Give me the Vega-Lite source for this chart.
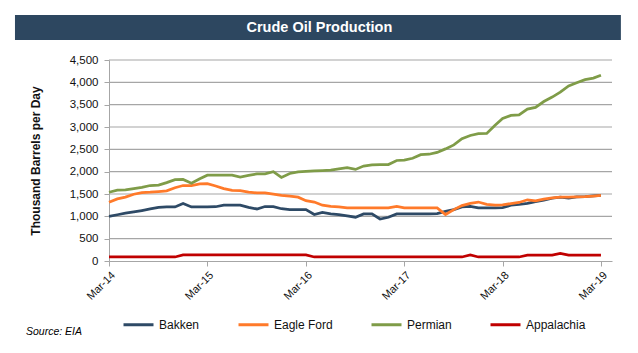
{
  "$schema": "https://vega.github.io/schema/vega-lite/v6.json",
  "background": "white",
  "padding": {"left": 14, "top": 15, "right": 18, "bottom": 5},
  "width": 503,
  "height": 201,
  "config": {"view": {"stroke": null}, "font": "Liberation Sans"},
  "title": {"text": "Source: EIA", "orient": "bottom", "anchor": "start", "frame": "group", "dx": -83, "offset": -4, "fontSize": 10.5, "fontStyle": "italic", "fontWeight": "normal", "font": "Liberation Sans", "color": "black"},
  "layer": [
    {
      "data": {"values": [{"v": 500}, {"v": 1000}, {"v": 1500}, {"v": 2000}, {"v": 2500}, {"v": 3000}, {"v": 3500}, {"v": 4000}, {"v": 4500}]},
      "mark": {"type": "rule", "stroke": "#A6A6A6", "strokeWidth": 1.2, "opacity": 1},
      "encoding": {
        "x": {
          "datum": {"year": 2014, "month": 3, "date": 1, "utc": true}, "type": "temporal",
          "axis": {
            "title": null, "grid": false, "format": "%b-%y", "labelAngle": -45,
            "values": [
              {"year": 2014, "month": 3, "date": 1, "utc": true},
              {"year": 2015, "month": 3, "date": 1, "utc": true},
              {"year": 2016, "month": 3, "date": 1, "utc": true},
              {"year": 2017, "month": 3, "date": 1, "utc": true},
              {"year": 2018, "month": 3, "date": 1, "utc": true},
              {"year": 2019, "month": 3, "date": 1, "utc": true}
            ],
            "labelFont": "Liberation Sans", "labelFontSize": 11, "labelColor": "#111",
            "domainColor": "#A6A6A6", "tickColor": "#A6A6A6", "tickSize": 5, "labelPadding": 3
          }
        },
        "x2": {"datum": {"year": 2019, "month": 4, "date": 11, "utc": true}},
        "y": {
          "field": "v", "type": "quantitative",
          "scale": {"domain": [0, 4500], "nice": false},
          "axis": {
            "title": "Thousand Barrels per Day", "titleFont": "Liberation Sans", "titleFontSize": 12, "titleFontWeight": "bold", "titleColor": "#111", "titlePadding": 27,
            "values": [0, 500, 1000, 1500, 2000, 2500, 3000, 3500, 4000, 4500], "format": ",d", "grid": false,
            "labelFont": "Liberation Sans", "labelFontSize": 11.5, "labelColor": "#111", "labelPadding": 6,
            "domainColor": "#A6A6A6", "tickColor": "#A6A6A6", "tickSize": 5
          }
        }
      }
    },
    {
      "data": {"values": [
        {"d": "2014-03-01", "Bakken": 1000, "Eagle Ford": 1315, "Permian": 1540, "Appalachia": 90},
        {"d": "2014-04-01", "Bakken": 1035, "Eagle Ford": 1390, "Permian": 1585, "Appalachia": 90},
        {"d": "2014-05-01", "Bakken": 1070, "Eagle Ford": 1430, "Permian": 1590, "Appalachia": 90},
        {"d": "2014-06-01", "Bakken": 1100, "Eagle Ford": 1495, "Permian": 1620, "Appalachia": 90},
        {"d": "2014-07-01", "Bakken": 1130, "Eagle Ford": 1530, "Permian": 1650, "Appalachia": 90},
        {"d": "2014-08-01", "Bakken": 1165, "Eagle Ford": 1540, "Permian": 1690, "Appalachia": 90},
        {"d": "2014-09-01", "Bakken": 1200, "Eagle Ford": 1555, "Permian": 1700, "Appalachia": 90},
        {"d": "2014-10-01", "Bakken": 1210, "Eagle Ford": 1570, "Permian": 1755, "Appalachia": 90},
        {"d": "2014-11-01", "Bakken": 1210, "Eagle Ford": 1640, "Permian": 1820, "Appalachia": 90},
        {"d": "2014-12-01", "Bakken": 1290, "Eagle Ford": 1690, "Permian": 1825, "Appalachia": 135},
        {"d": "2015-01-01", "Bakken": 1210, "Eagle Ford": 1690, "Permian": 1740, "Appalachia": 135},
        {"d": "2015-02-01", "Bakken": 1210, "Eagle Ford": 1725, "Permian": 1840, "Appalachia": 135},
        {"d": "2015-03-01", "Bakken": 1210, "Eagle Ford": 1730, "Permian": 1920, "Appalachia": 135},
        {"d": "2015-04-01", "Bakken": 1215, "Eagle Ford": 1680, "Permian": 1920, "Appalachia": 135},
        {"d": "2015-05-01", "Bakken": 1250, "Eagle Ford": 1620, "Permian": 1920, "Appalachia": 135},
        {"d": "2015-06-01", "Bakken": 1250, "Eagle Ford": 1580, "Permian": 1920, "Appalachia": 135},
        {"d": "2015-07-01", "Bakken": 1250, "Eagle Ford": 1575, "Permian": 1880, "Appalachia": 135},
        {"d": "2015-08-01", "Bakken": 1200, "Eagle Ford": 1540, "Permian": 1915, "Appalachia": 135},
        {"d": "2015-09-01", "Bakken": 1165, "Eagle Ford": 1525, "Permian": 1950, "Appalachia": 135},
        {"d": "2015-10-01", "Bakken": 1220, "Eagle Ford": 1525, "Permian": 1950, "Appalachia": 135},
        {"d": "2015-11-01", "Bakken": 1215, "Eagle Ford": 1495, "Permian": 2000, "Appalachia": 135},
        {"d": "2015-12-01", "Bakken": 1170, "Eagle Ford": 1470, "Permian": 1870, "Appalachia": 135},
        {"d": "2016-01-01", "Bakken": 1150, "Eagle Ford": 1450, "Permian": 1960, "Appalachia": 135},
        {"d": "2016-02-01", "Bakken": 1150, "Eagle Ford": 1430, "Permian": 1995, "Appalachia": 135},
        {"d": "2016-03-01", "Bakken": 1150, "Eagle Ford": 1350, "Permian": 2005, "Appalachia": 135},
        {"d": "2016-04-01", "Bakken": 1040, "Eagle Ford": 1320, "Permian": 2015, "Appalachia": 90},
        {"d": "2016-05-01", "Bakken": 1090, "Eagle Ford": 1250, "Permian": 2025, "Appalachia": 90},
        {"d": "2016-06-01", "Bakken": 1055, "Eagle Ford": 1225, "Permian": 2035, "Appalachia": 90},
        {"d": "2016-07-01", "Bakken": 1040, "Eagle Ford": 1210, "Permian": 2060, "Appalachia": 90},
        {"d": "2016-08-01", "Bakken": 1010, "Eagle Ford": 1190, "Permian": 2090, "Appalachia": 90},
        {"d": "2016-09-01", "Bakken": 980, "Eagle Ford": 1190, "Permian": 2050, "Appalachia": 90},
        {"d": "2016-10-01", "Bakken": 1055, "Eagle Ford": 1190, "Permian": 2125, "Appalachia": 90},
        {"d": "2016-11-01", "Bakken": 1055, "Eagle Ford": 1190, "Permian": 2150, "Appalachia": 90},
        {"d": "2016-12-01", "Bakken": 940, "Eagle Ford": 1190, "Permian": 2160, "Appalachia": 90},
        {"d": "2017-01-01", "Bakken": 980, "Eagle Ford": 1190, "Permian": 2160, "Appalachia": 90},
        {"d": "2017-02-01", "Bakken": 1055, "Eagle Ford": 1225, "Permian": 2250, "Appalachia": 90},
        {"d": "2017-03-01", "Bakken": 1055, "Eagle Ford": 1190, "Permian": 2260, "Appalachia": 90},
        {"d": "2017-04-01", "Bakken": 1055, "Eagle Ford": 1190, "Permian": 2300, "Appalachia": 90},
        {"d": "2017-05-01", "Bakken": 1055, "Eagle Ford": 1190, "Permian": 2380, "Appalachia": 90},
        {"d": "2017-06-01", "Bakken": 1055, "Eagle Ford": 1190, "Permian": 2390, "Appalachia": 90},
        {"d": "2017-07-01", "Bakken": 1060, "Eagle Ford": 1190, "Permian": 2430, "Appalachia": 90},
        {"d": "2017-08-01", "Bakken": 1110, "Eagle Ford": 1040, "Permian": 2510, "Appalachia": 90},
        {"d": "2017-09-01", "Bakken": 1150, "Eagle Ford": 1150, "Permian": 2600, "Appalachia": 90},
        {"d": "2017-10-01", "Bakken": 1210, "Eagle Ford": 1240, "Permian": 2740, "Appalachia": 90},
        {"d": "2017-11-01", "Bakken": 1225, "Eagle Ford": 1290, "Permian": 2810, "Appalachia": 135},
        {"d": "2017-12-01", "Bakken": 1190, "Eagle Ford": 1320, "Permian": 2850, "Appalachia": 90},
        {"d": "2018-01-01", "Bakken": 1190, "Eagle Ford": 1270, "Permian": 2855, "Appalachia": 90},
        {"d": "2018-02-01", "Bakken": 1190, "Eagle Ford": 1250, "Permian": 3040, "Appalachia": 90},
        {"d": "2018-03-01", "Bakken": 1195, "Eagle Ford": 1255, "Permian": 3190, "Appalachia": 90},
        {"d": "2018-04-01", "Bakken": 1250, "Eagle Ford": 1285, "Permian": 3260, "Appalachia": 90},
        {"d": "2018-05-01", "Bakken": 1265, "Eagle Ford": 1310, "Permian": 3270, "Appalachia": 90},
        {"d": "2018-06-01", "Bakken": 1290, "Eagle Ford": 1370, "Permian": 3400, "Appalachia": 130},
        {"d": "2018-07-01", "Bakken": 1330, "Eagle Ford": 1345, "Permian": 3440, "Appalachia": 130},
        {"d": "2018-08-01", "Bakken": 1360, "Eagle Ford": 1385, "Permian": 3570, "Appalachia": 130},
        {"d": "2018-09-01", "Bakken": 1405, "Eagle Ford": 1415, "Permian": 3670, "Appalachia": 130},
        {"d": "2018-10-01", "Bakken": 1430, "Eagle Ford": 1430, "Permian": 3780, "Appalachia": 170},
        {"d": "2018-11-01", "Bakken": 1410, "Eagle Ford": 1430, "Permian": 3920, "Appalachia": 130},
        {"d": "2018-12-01", "Bakken": 1435, "Eagle Ford": 1435, "Permian": 3990, "Appalachia": 130},
        {"d": "2019-01-01", "Bakken": 1440, "Eagle Ford": 1440, "Permian": 4060, "Appalachia": 130},
        {"d": "2019-02-01", "Bakken": 1460, "Eagle Ford": 1455, "Permian": 4095, "Appalachia": 130},
        {"d": "2019-03-01", "Bakken": 1470, "Eagle Ford": 1470, "Permian": 4160, "Appalachia": 130}
      ]},
      "transform": [{"fold": ["Bakken", "Eagle Ford", "Permian", "Appalachia"], "as": ["series", "value"]}],
      "mark": {"type": "line", "strokeWidth": 2.75},
      "encoding": {
        "x": {
          "field": "d", "type": "temporal",
          "scale": {"type": "utc", "domain": [{"year": 2014, "month": 3, "date": 1, "utc": true}, {"year": 2019, "month": 4, "date": 11, "utc": true}]},
          "axis": {
            "title": null, "grid": false, "format": "%b-%y", "labelAngle": -45,
            "values": [
              {"year": 2014, "month": 3, "date": 1, "utc": true},
              {"year": 2015, "month": 3, "date": 1, "utc": true},
              {"year": 2016, "month": 3, "date": 1, "utc": true},
              {"year": 2017, "month": 3, "date": 1, "utc": true},
              {"year": 2018, "month": 3, "date": 1, "utc": true},
              {"year": 2019, "month": 3, "date": 1, "utc": true}
            ],
            "labelFont": "Liberation Sans", "labelFontSize": 11, "labelColor": "#111",
            "domainColor": "#A6A6A6", "tickColor": "#A6A6A6", "tickSize": 5, "labelPadding": 3
          }
        },
        "y": {
          "field": "value", "type": "quantitative",
          "scale": {"domain": [0, 4500], "nice": false},
          "axis": {
            "title": "Thousand Barrels per Day", "titleFont": "Liberation Sans", "titleFontSize": 12, "titleFontWeight": "bold", "titleColor": "#111", "titlePadding": 27,
            "values": [0, 500, 1000, 1500, 2000, 2500, 3000, 3500, 4000, 4500], "format": ",d", "grid": false,
            "labelFont": "Liberation Sans", "labelFontSize": 11.5, "labelColor": "#111", "labelPadding": 6,
            "domainColor": "#A6A6A6", "tickColor": "#A6A6A6", "tickSize": 5
          }
        },
        "color": {
          "field": "series", "type": "nominal",
          "scale": {"domain": ["Bakken", "Eagle Ford", "Permian", "Appalachia"], "range": ["#2E4A66", "#FF7A2A", "#7F9C48", "#C00000"]},
          "legend": {
            "title": null, "orient": "none", "legendX": 13, "legendY": 248, "direction": "horizontal", "gridAlign": "each", "symbolType": "stroke", "symbolSize": 900, "symbolStrokeWidth": 3,
            "labelFont": "Liberation Sans", "labelFontSize": 12, "labelColor": "#111", "labelOffset": 4, "columnPadding": 32
          }
        }
      }
    },
    {
      "data": {"values": [{"t": "Crude Oil Production"}]},
      "mark": {"type": "rect", "color": "#2D4760"},
      "encoding": {
        "x": {
          "datum": {"year": 2013, "month": 3, "date": 17, "utc": true}, "type": "temporal",
          "axis": {
            "title": null, "grid": false, "format": "%b-%y", "labelAngle": -45,
            "values": [
              {"year": 2014, "month": 3, "date": 1, "utc": true},
              {"year": 2015, "month": 3, "date": 1, "utc": true},
              {"year": 2016, "month": 3, "date": 1, "utc": true},
              {"year": 2017, "month": 3, "date": 1, "utc": true},
              {"year": 2018, "month": 3, "date": 1, "utc": true},
              {"year": 2019, "month": 3, "date": 1, "utc": true}
            ],
            "labelFont": "Liberation Sans", "labelFontSize": 11, "labelColor": "#111",
            "domainColor": "#A6A6A6", "tickColor": "#A6A6A6", "tickSize": 5, "labelPadding": 3
          }
        },
        "x2": {"datum": {"year": 2019, "month": 5, "date": 14, "utc": true}},
        "y": {
          "datum": 4948, "type": "quantitative",
          "axis": {
            "title": "Thousand Barrels per Day", "titleFont": "Liberation Sans", "titleFontSize": 12, "titleFontWeight": "bold", "titleColor": "#111", "titlePadding": 27,
            "values": [0, 500, 1000, 1500, 2000, 2500, 3000, 3500, 4000, 4500], "format": ",d", "grid": false,
            "labelFont": "Liberation Sans", "labelFontSize": 11.5, "labelColor": "#111", "labelPadding": 6,
            "domainColor": "#A6A6A6", "tickColor": "#A6A6A6", "tickSize": 5
          }
        },
        "y2": {"datum": 5507}
      }
    },
    {
      "data": {"values": [{"t": "Crude Oil Production"}]},
      "mark": {"type": "text", "color": "white", "font": "Liberation Sans", "fontWeight": "bold", "fontSize": 14.5, "baseline": "middle", "align": "center"},
      "encoding": {
        "x": {
          "datum": {"year": 2016, "month": 4, "date": 20, "utc": true}, "type": "temporal",
          "axis": {
            "title": null, "grid": false, "format": "%b-%y", "labelAngle": -45,
            "values": [
              {"year": 2014, "month": 3, "date": 1, "utc": true},
              {"year": 2015, "month": 3, "date": 1, "utc": true},
              {"year": 2016, "month": 3, "date": 1, "utc": true},
              {"year": 2017, "month": 3, "date": 1, "utc": true},
              {"year": 2018, "month": 3, "date": 1, "utc": true},
              {"year": 2019, "month": 3, "date": 1, "utc": true}
            ],
            "labelFont": "Liberation Sans", "labelFontSize": 11, "labelColor": "#111",
            "domainColor": "#A6A6A6", "tickColor": "#A6A6A6", "tickSize": 5, "labelPadding": 3
          }
        },
        "y": {
          "datum": 5216, "type": "quantitative",
          "axis": {
            "title": "Thousand Barrels per Day", "titleFont": "Liberation Sans", "titleFontSize": 12, "titleFontWeight": "bold", "titleColor": "#111", "titlePadding": 27,
            "values": [0, 500, 1000, 1500, 2000, 2500, 3000, 3500, 4000, 4500], "format": ",d", "grid": false,
            "labelFont": "Liberation Sans", "labelFontSize": 11.5, "labelColor": "#111", "labelPadding": 6,
            "domainColor": "#A6A6A6", "tickColor": "#A6A6A6", "tickSize": 5
          }
        },
        "text": {"field": "t", "type": "nominal"}
      }
    }
  ]
}
